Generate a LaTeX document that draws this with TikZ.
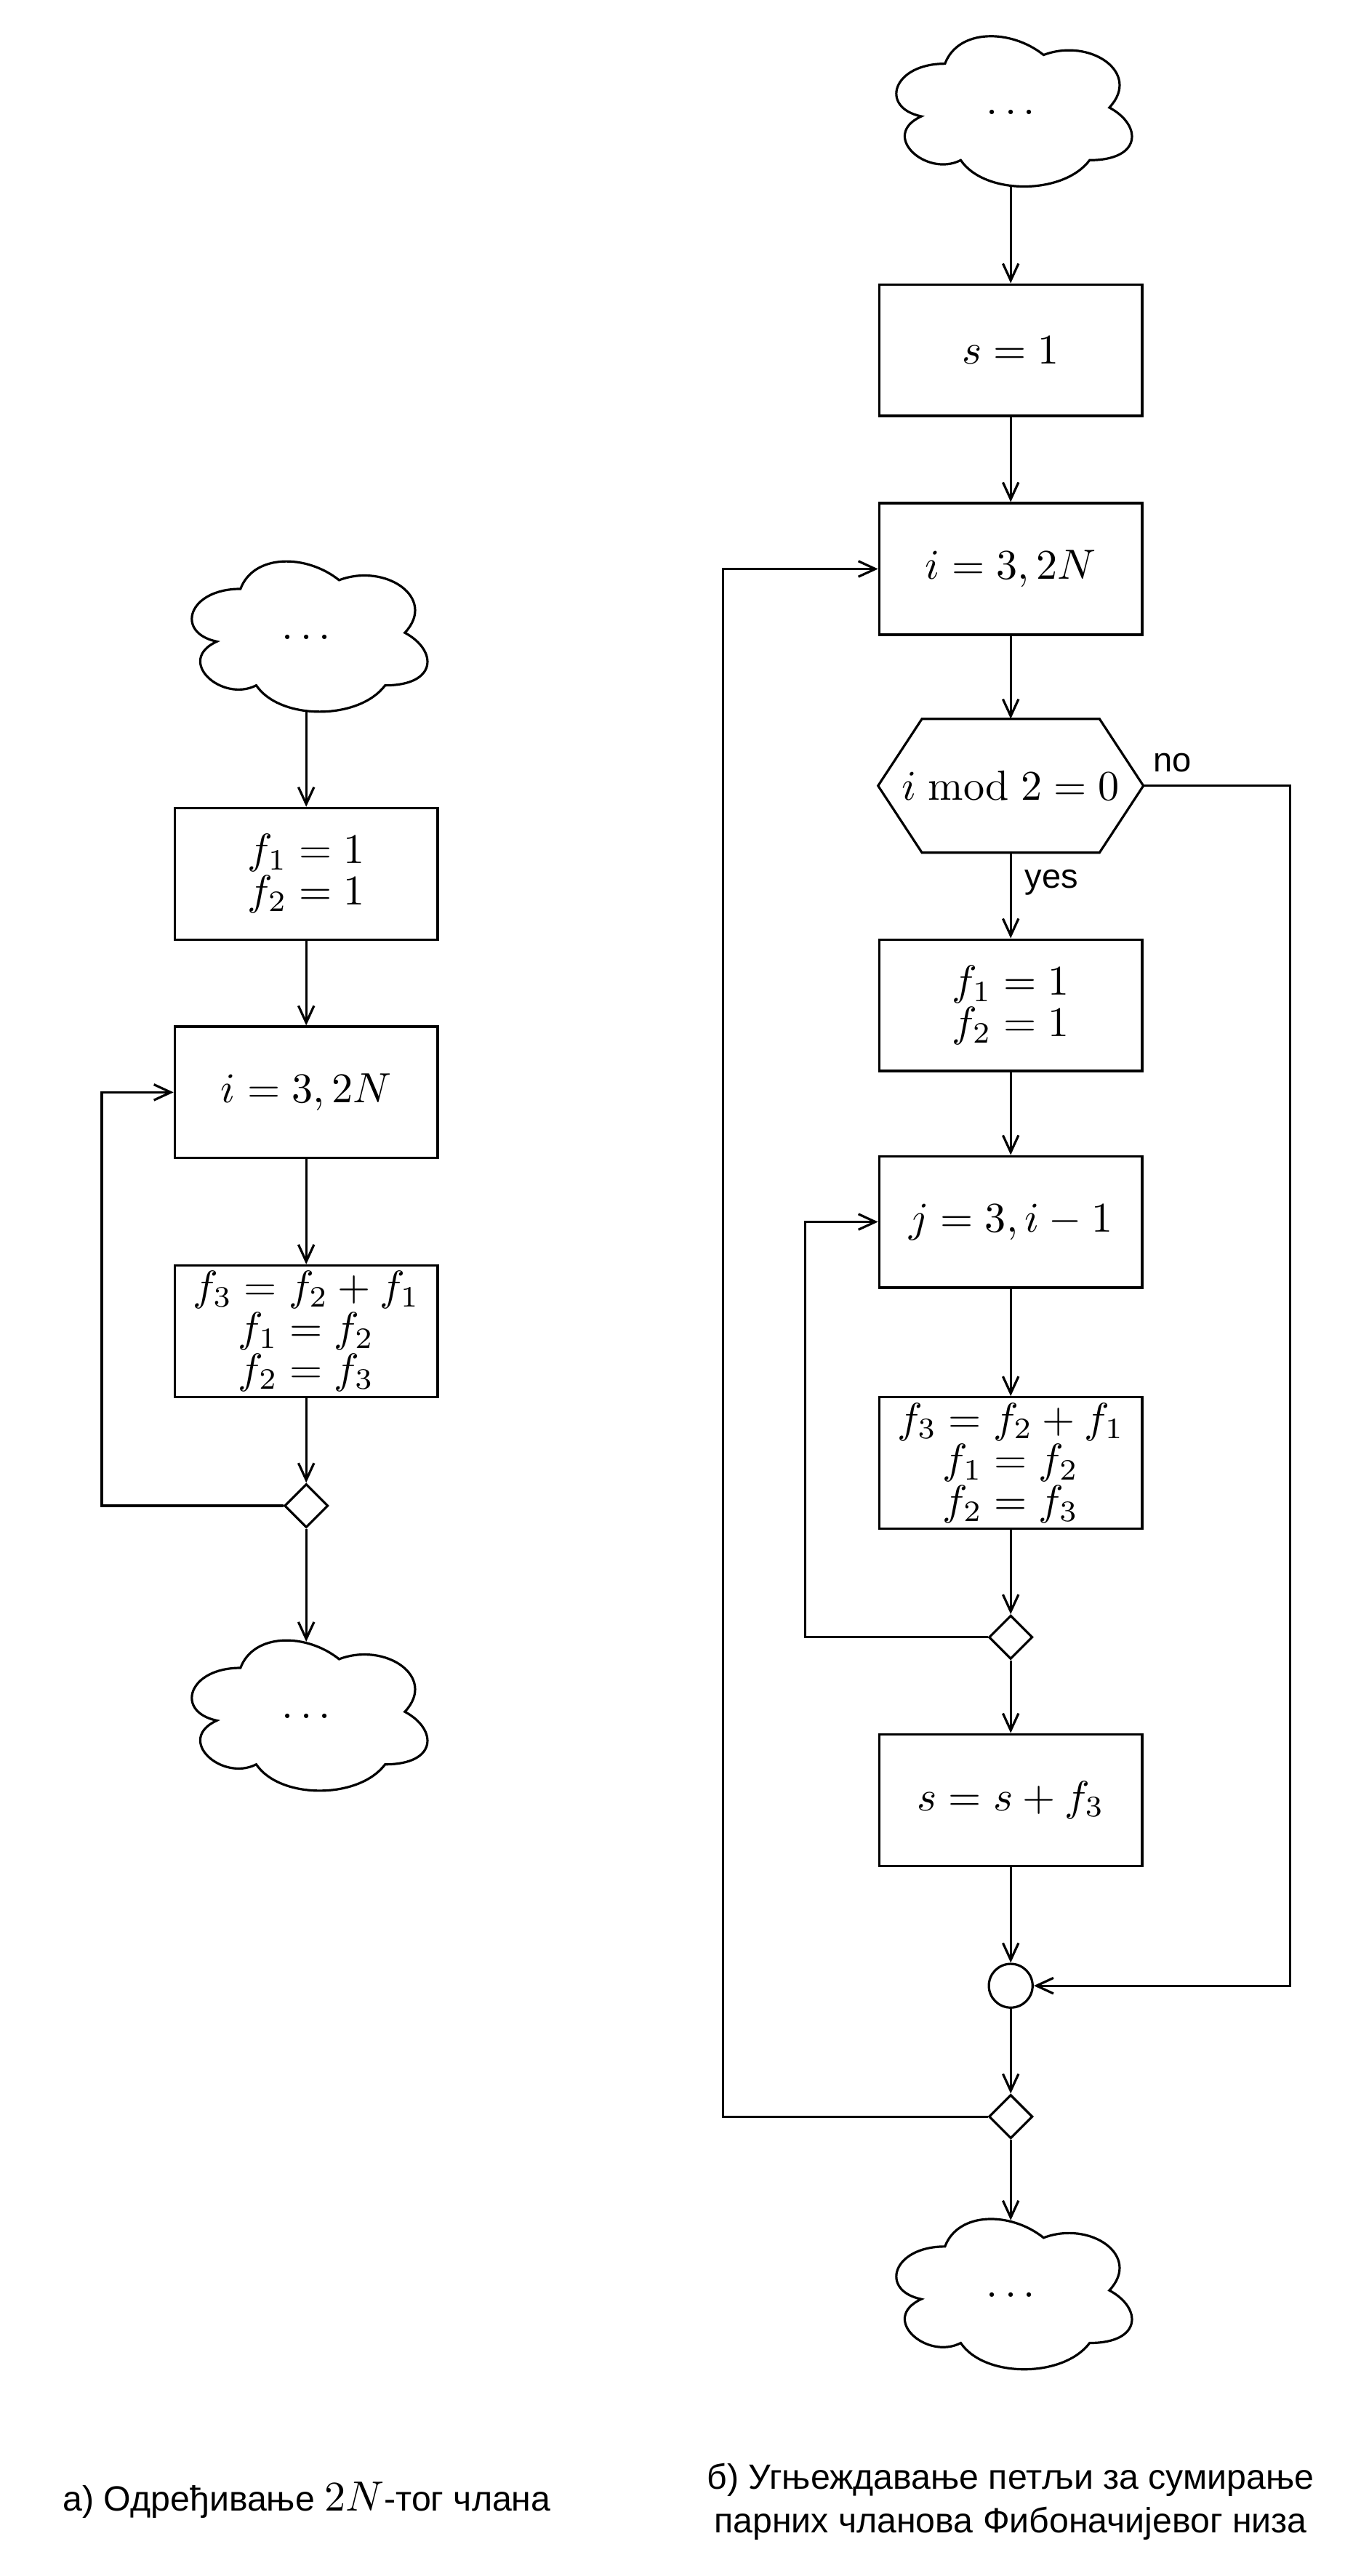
\documentclass[tikz,border=0pt]{standalone}
\usepackage[no-math]{fontspec}
\newfontfamily\sanslab{Liberation Sans}
\usetikzlibrary{arrows.meta,shapes.geometric}
\newcommand\drawcloud[1]{%
  \draw[shift={(#1.center)}, x=62.24pt, y=-41.51pt, shift={(-0.5,-0.526)}]
    (0.25,0.25) .. controls (0.05,0.25) and (0,0.5) .. (0.16,0.55)
    .. controls (0,0.66) and (0.18,0.9) .. (0.31,0.8)
    .. controls (0.4,1) and (0.7,1) .. (0.8,0.8)
    .. controls (1,0.8) and (1,0.6) .. (0.875,0.5)
    .. controls (1,0.3) and (0.8,0.1) .. (0.625,0.2)
    .. controls (0.5,0.05) and (0.3,0.05) .. (0.25,0.25) -- cycle;}
\newcommand\drawhex[1]{%
  \draw (#1.west) -- ([xshift=10.39pt]#1.north west) -- ([xshift=-10.39pt]#1.north east)
    -- (#1.east) -- ([xshift=-10.39pt]#1.south east) -- ([xshift=10.39pt]#1.south west) -- cycle;}
\begin{document}
\begin{tikzpicture}[x=0.389pt, y=-0.389pt, line width=0.55pt,
  arr/.style={-{Straight Barb[length=4pt,width=3.7pt]}},
  box/.style={draw, rectangle, minimum width=62.24pt, minimum height=31.12pt, inner sep=0pt, align=center, font=\fontsize{10}{9.75}\selectfont},
  hexn/.style={rectangle, minimum width=62.24pt, minimum height=31.12pt, inner sep=0pt, font=\fontsize{10}{9.75}\selectfont},
  dia/.style={draw, diamond, minimum width=10.35pt, minimum height=10.35pt, inner sep=0pt},
  jn/.style={draw, circle, minimum size=10.35pt, inner sep=0pt},
  cloudn/.style={rectangle, minimum width=62.24pt, minimum height=34.78pt, inner sep=0pt, font=\fontsize{10}{12}\selectfont},
  lab/.style={font=\sanslab\fontsize{8.1}{9.7}\selectfont, inner sep=0pt},
]
\useasboundingbox (0,0) rectangle (828,1567.1);

% left flowchart
\node[cloudn] (L0) at (186.3,387.7) {$\dots$};
\drawcloud{L0}
\node[box] (L1) at (186.3,531.5) {$f_1=1$\\$f_2=1$};
\node[box] (L2) at (186.3,664.5) {$i=3,2N$};
\node[box] (L3) at (186.3,809.8) {$f_3=f_2+f_1$\\$f_1=f_2$\\$f_2=f_3$};
\node[dia] (L4) at (186.3,916) {};
\node[cloudn] (L5) at (186.3,1044.1) {$\dots$};
\drawcloud{L5}
\coordinate (Lx) at (61.9,916);

\draw[arr] (L0) -- (L1);
\draw[arr] (L1) -- (L2);
\draw[arr] (L2) -- (L3);
\draw[arr] (L3) -- (L4);
\draw[arr] (L4) -- (L5);
\draw[arr] (L4) -- (Lx) |- (L2);

% right flowchart
\node[cloudn] (R0) at (614.9,68.2) {$\dots$};
\drawcloud{R0}
\node[box] (R1) at (614.9,213) {$s=1$};
\node[box] (R2) at (614.9,346.1) {$i=3,2N$};
\node[hexn] (R3) at (614.9,478) {$i \bmod 2 = 0$};
\drawhex{R3}
\node[box] (R4) at (614.9,611.5) {$f_1=1$\\$f_2=1$};
\node[box] (R5) at (614.9,743.3) {$j=3,i-1$};
\node[box] (R6) at (614.9,890) {$f_3=f_2+f_1$\\$f_1=f_2$\\$f_2=f_3$};
\node[dia] (R7) at (614.9,996) {};
\node[box] (R8) at (614.9,1095) {$s=s+f_3$};
\node[jn] (R9) at (614.9,1208) {};
\node[dia] (R10) at (614.9,1287.6) {};
\node[cloudn] (R11) at (614.9,1396.1) {$\dots$};
\drawcloud{R11}
\coordinate (Ix) at (490,996);
\coordinate (Ox) at (440,1287.6);
\coordinate (Nx) at (784.8,478);

\draw[arr] (R0) -- (R1);
\draw[arr] (R1) -- (R2);
\draw[arr] (R2) -- (R3);
\draw[arr] (R3) -- (R4);
\draw[arr] (R4) -- (R5);
\draw[arr] (R5) -- (R6);
\draw[arr] (R6) -- (R7);
\draw[arr] (R7) -- (R8);
\draw[arr] (R8) -- (R9);
\draw[arr] (R9) -- (R10);
\draw[arr] (R10) -- (R11);
\draw[arr] (R7) -- (Ix) |- (R5);
\draw[arr] (R10) -- (Ox) |- (R2);
\draw[arr] (R3.east) -- (Nx) |- (R9);
\node[lab, anchor=base west] (no) at (701,469.7) {no};
\node[lab, anchor=base west] (yes) at (622.8,540.3) {yes};

% captions
\node[anchor=base, inner sep=0pt] (capA) at (186.7,1527.3)
  {\sanslab\fontsize{8.3}{9.9}\selectfont а) Одређивање {\fontsize{9.8}{10}\selectfont$2N$}-тог члана};
\node[anchor=base, inner sep=0pt] (capB) at (614.8,1514.1)
  {\sanslab\fontsize{8.3}{10.35}\selectfont\begin{tabular}[t]{@{}c@{}}б) Угњеждавање петљи за сумирање\\парних чланова Фибоначијевог низа\end{tabular}};
\end{tikzpicture}
\end{document}
